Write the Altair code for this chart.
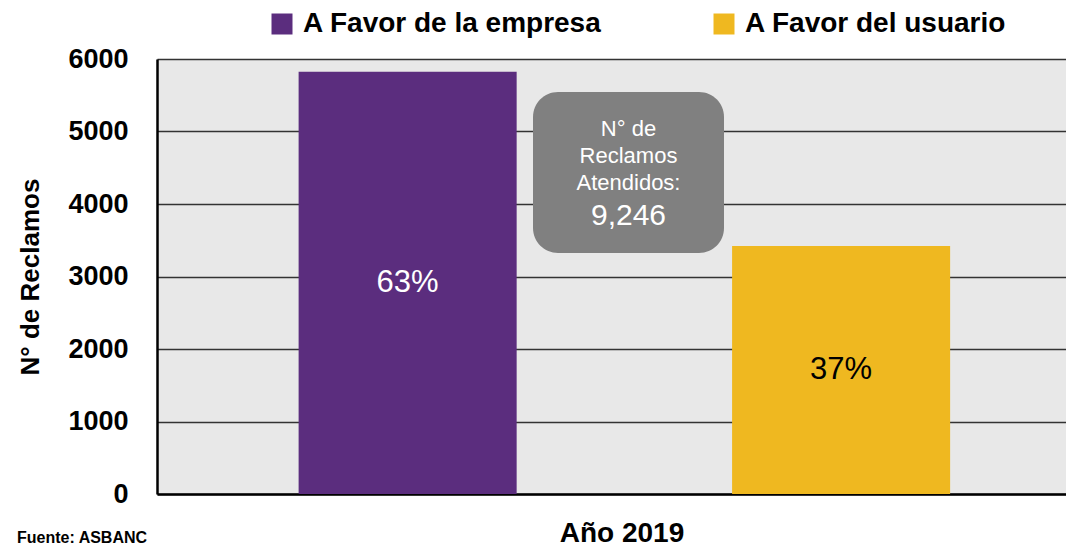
import altair as alt
import pandas as pd

categories = ["A Favor de la empresa", "A Favor del usuario"]
values = [5825, 3421]
pct_labels = ["63%", "37%"]
bar_colors = ["#5B2D7E", "#EFB820"]
label_colors = ["white", "black"]
total_text = "9,246"
box_lines = "N° de\nReclamos\nAtendidos:"
y_ticks = [0, 1000, 2000, 3000, 4000, 5000, 6000]

FONT = "Liberation Sans"

df = pd.DataFrame({
    "cat": categories,
    "val": values,
    "mid": [v / 2 for v in values],
    "pct": pct_labels,
    "lc": label_colors,
})

base = alt.Chart(df)

xenc = alt.X(
    "cat:N",
    sort=categories,
    scale=alt.Scale(domain=categories, paddingInner=0.497, paddingOuter=0.297, align=0.55),
    axis=alt.Axis(title=None, labels=False, ticks=False, domain=True,
                  domainColor="black", domainWidth=2.5, grid=False),
)

bars = base.mark_bar().encode(
    x=xenc,
    y=alt.Y(
        "val:Q",
        scale=alt.Scale(domain=[0, 6000], nice=False),
        axis=alt.Axis(
            values=y_ticks, format="d", title="N° de Reclamos", titleFont=FONT, titleFontSize=26,
            titleFontWeight="bold", titleColor="black", titleAngle=270,
            titleX=-127, titleY=217.5, titleAlign="center", titleBaseline="middle",
            labelFont=FONT, labelFontSize=27, labelFontWeight="bold", labelColor="black",
            labelPadding=29, ticks=False, domain=True, domainColor="black", domainWidth=2.5,
            grid=True, gridColor="#333333", gridWidth=1.5, labelOverlap=False,
        ),
    ),
    color=alt.Color(
        "cat:N",
        scale=alt.Scale(domain=categories, range=bar_colors),
        legend=alt.Legend(
            title=None, orient="none", legendX=111, legendY=-49, direction="horizontal",
            symbolType="square", symbolSize=441, symbolStrokeWidth=0, symbolOpacity=1,
            labelFont=FONT, labelFontSize=28, labelFontWeight="bold", labelColor="black",
            labelOffset=7, columnPadding=108, padding=0, labelLimit=500,
        ),
    ),
)

labels = base.mark_text(font=FONT, fontSize=31, baseline="middle", align="center").encode(
    x=alt.X("cat:N", sort=categories),
    y=alt.Y("mid:Q"),
    text="pct:N",
    color=alt.Color("lc:N", scale=None),
)

one = alt.Chart(pd.DataFrame({"a": [0]}))

box = one.mark_rect(cornerRadius=25, color="#808080").encode(
    x=alt.value(376), x2=alt.value(567), y=alt.value(33), y2=alt.value(194)
)

box_text = one.mark_text(
    font=FONT, fontSize=22, color="white", align="center", baseline="middle", lineHeight=27,
    text=box_lines.split("\n"),
).encode(x=alt.value(471.5), y=alt.value(70))

box_num = one.mark_text(
    font=FONT, fontSize=30, color="white", align="center", baseline="middle", text=total_text
).encode(x=alt.value(471.5), y=alt.value(157))

xtitle = one.mark_text(
    font=FONT, fontSize=28, fontWeight="bold", color="black", align="center",
    baseline="alphabetic", text="Año 2019"
).encode(x=alt.value(465), y=alt.value(483))

source = one.mark_text(
    font=FONT, fontSize=16, fontWeight="bold", color="black", align="left",
    baseline="bottom", text="Fuente: ASBANC"
).encode(x=alt.value(-140), y=alt.value(487))

chart = alt.layer(bars, labels, box, box_text, box_num, xtitle, source).properties(
    width=909,
    height=435,
    autosize=alt.AutoSizeParams(type="none"),
    padding={"left": 149, "top": 51, "right": 0, "bottom": 54},
).configure_view(fill="#E8E8E8", strokeWidth=0)

chart.save("out.html", embed_options={"renderer": "svg", "actions": False})
